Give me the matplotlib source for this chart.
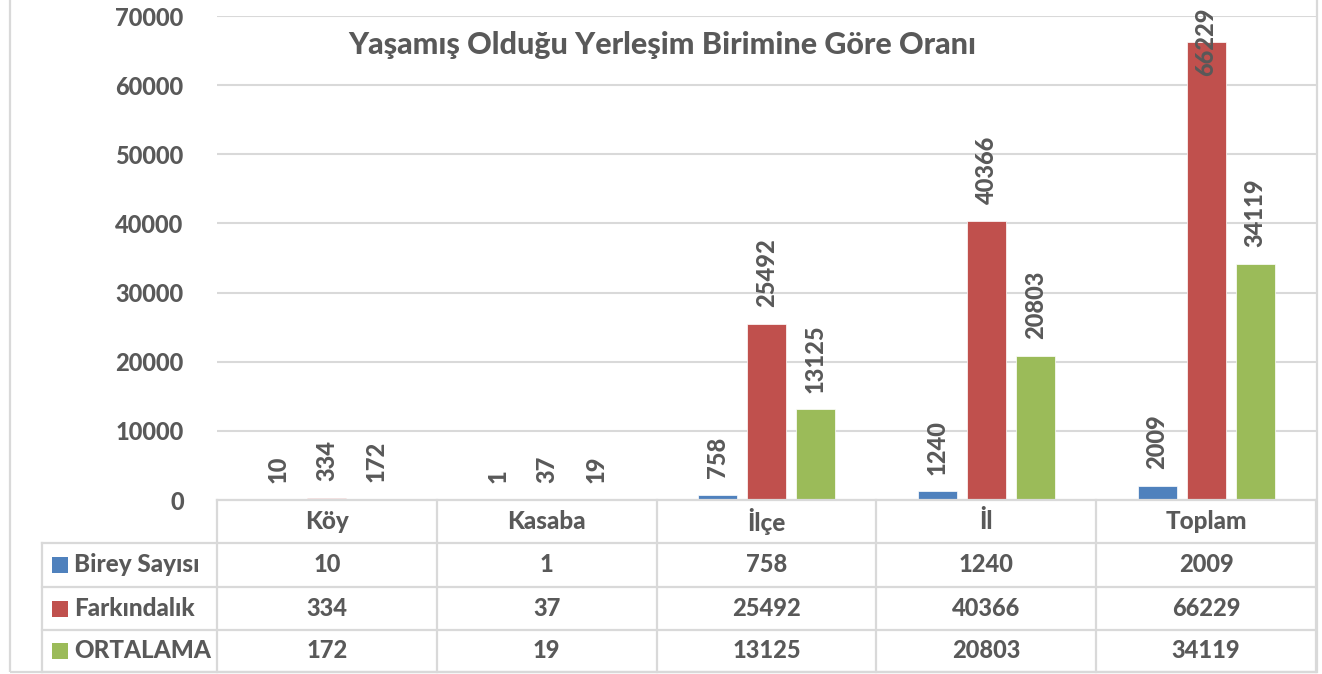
import matplotlib
matplotlib.use("Agg")
import matplotlib.pyplot as plt
from matplotlib.transforms import blended_transform_factory
from matplotlib.lines import Line2D
from matplotlib.patches import Rectangle
import numpy as np

plt.rcParams['font.family'] = ['Lato', 'DejaVu Sans']

title = "Yaşamış Olduğu Yerleşim Birimine Göre Oranı"
categories = ["Köy", "Kasaba", "İlçe", "İl", "Toplam"]
series_names = ["Birey Sayısı", "Farkındalık", "ORTALAMA"]
birey = [10, 1, 758, 1240, 2009]
farkindalik = [334, 37, 25492, 40366, 66229]
ortalama = [172, 19, 13125, 20803, 34119]
yticks = [0, 10000, 20000, 30000, 40000, 50000, 60000, 70000]
colors = ["#4F81BD", "#C0504D", "#9BBB59"]

TXT = "#595959"
GRID = "#D9D9D9"
W, H = 1322, 674
FS = 17
FW = 900

fig = plt.figure(figsize=(W / 100, H / 100), dpi=100)

def fx(px):
    return px / W

def fy(py):
    return 1 - py / H

ax = fig.add_axes([fx(217), fy(500), fx(1316) - fx(217), fy(16) - fy(500)])
ax.set_xlim(-0.5, len(categories) - 0.5)
ax.set_ylim(0, 70000)
ax.set_yticks(yticks)
ax.set_yticklabels([str(t) for t in yticks], color=TXT, fontsize=FS, fontweight=FW)
ax.tick_params(axis='y', length=0, pad=24)
ax.set_xticks([])
for s in ax.spines.values():
    s.set_visible(False)
ax.grid(axis='y', color=GRID, lw=1.5)
ax.set_axisbelow(True)

series = [birey, farkindalik, ortalama]
x = np.arange(len(categories))
bw = 0.177
pitch = 0.223
for i, (vals, c) in enumerate(zip(series, colors)):
    xs = x + (i - 1) * pitch
    ax.bar(xs, vals, width=bw, color=c, edgecolor='white', linewidth=0.5, zorder=2)
    for xi, v in zip(xs, vals):
        if v > 55000:
            ax.annotate(str(v), (xi, 70000), xytext=(0, 6), textcoords='offset points',
                        rotation=90, ha='center', va='top', color=TXT,
                        fontsize=FS, fontweight=FW, annotation_clip=False, zorder=3)
        else:
            ax.annotate(str(v), (xi, v), xytext=(0, 12), textcoords='offset points',
                        rotation=90, ha='center', va='bottom', color=TXT,
                        fontsize=FS, fontweight=FW, annotation_clip=False, zorder=3)

# title
fig.text(fx(662), fy(45), title, ha='center', va='center', color=TXT,
         fontsize=22, fontweight=FW)

# data table
bt = blended_transform_factory(ax.transData, fig.transFigure)
ft = fig.transFigure
row_y = [500, 543, 587, 630, 672]
lw = 1.6
fig.add_artist(Line2D([fx(217), fx(1316)], [fy(row_y[0])] * 2, color=GRID, lw=lw, transform=ft))
for ry in row_y[1:]:
    fig.add_artist(Line2D([fx(42), fx(1316)], [fy(ry)] * 2, color=GRID, lw=lw, transform=ft))
for b in np.arange(len(categories) + 1) - 0.5:
    fig.add_artist(Line2D([b, b], [fy(row_y[0]), fy(row_y[-1])], color=GRID, lw=lw, transform=bt))
fig.add_artist(Line2D([fx(42), fx(42)], [fy(row_y[1]), fy(row_y[-1])], color=GRID, lw=lw, transform=ft))
fig.add_artist(Rectangle((fx(10), fy(672)), fx(1317) - fx(10), fy(0) - fy(672) + 0.01,
                         fill=False, edgecolor=GRID, lw=lw, transform=ft))

for i, cat in enumerate(categories):
    fig.text(i, fy((row_y[0] + row_y[1]) / 2), cat, transform=bt, ha='center', va='center',
             color=TXT, fontsize=FS + 0.5, fontweight=FW)
for r, (name, vals, c) in enumerate(zip(series_names, series, colors)):
    yc = (row_y[r + 1] + row_y[r + 2]) / 2
    fig.add_artist(Rectangle((fx(52), fy(yc + 8)), fx(16), fy(yc - 8) - fy(yc + 8),
                             facecolor=c, edgecolor='none', transform=ft))
    fig.text(fx(74), fy(yc), name, ha='left', va='center', color=TXT,
             fontsize=FS + 0.5, fontweight=FW)
    for i, v in enumerate(vals):
        fig.text(i, fy(yc), str(v), transform=bt, ha='center', va='center',
                 color=TXT, fontsize=FS, fontweight=FW)

fig.savefig("out.png", dpi=100, facecolor='white')
